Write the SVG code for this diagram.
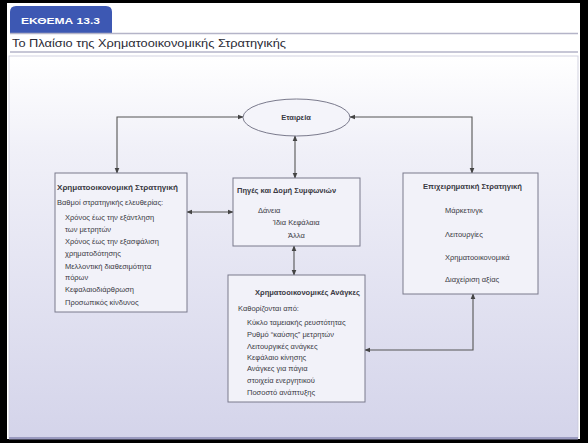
<svg xmlns="http://www.w3.org/2000/svg" width="588" height="443" viewBox="0 0 588 443">
<defs>
<linearGradient id="panel" x1="0" y1="0" x2="0" y2="1">
<stop offset="0" stop-color="#ffffff"/>
<stop offset="0.25" stop-color="#f0f0f8"/>
<stop offset="1" stop-color="#d4d4ea"/>
</linearGradient>
<marker id="ah" viewBox="0 0 8 8" refX="7" refY="4" markerWidth="6" markerHeight="6" orient="auto-start-reverse" markerUnits="userSpaceOnUse">
<path d="M0,0.8 L8,4 L0,7.2 Z" fill="#444"/>
</marker>
<style>
.box{fill:#f2f2f9;stroke:#7a7a8c;stroke-width:1}
.t{font-family:"Liberation Sans","Noto Sans",sans-serif;font-size:7.5px;fill:#3a3a44}
.b{font-weight:bold}
.c{fill:none;stroke:#555;stroke-width:1.1}
</style>
</defs>
<rect x="0" y="0" width="588" height="443" fill="#000"/>
<rect x="7" y="3" width="573" height="436" fill="#fff"/>
<rect x="9" y="56" width="569" height="382" fill="url(#panel)" stroke="#c8c8da" stroke-width="0.8"/>
<rect x="9" y="437" width="569" height="2.5" fill="#9a9ac0"/>
<path d="M10,33 V12 Q10,6 16,6 H106 Q112,6 112,12 V33 Z" fill="#3d58b3"/>
<line x1="10" y1="33.5" x2="578" y2="33.5" stroke="#b4b4c8" stroke-width="1.5"/>
<line x1="10" y1="52" x2="578" y2="52" stroke="#b4b4c8" stroke-width="1.5"/>
<text x="21" y="24" font-family="Liberation Sans, sans-serif" font-size="9.5" font-weight="bold" fill="#fff" textLength="79" lengthAdjust="spacingAndGlyphs">ΕΚΘΕΜΑ 13.3</text>
<text x="12" y="47" font-family="Liberation Sans, sans-serif" font-size="10" fill="#2a2a35" textLength="274" lengthAdjust="spacingAndGlyphs">Το Πλαίσιο της Χρηματοοικονομικής Στρατηγικής</text>

<g id="connectors">
<polyline class="c" points="117,173 117,117 243,117" marker-start="url(#ah)" marker-end="url(#ah)"/>
<polyline class="c" points="472,173 472,117 350,117" marker-start="url(#ah)" marker-end="url(#ah)"/>
<line class="c" x1="295" y1="136" x2="295" y2="178" marker-start="url(#ah)" marker-end="url(#ah)"/>
<line class="c" x1="187" y1="212" x2="233" y2="212" marker-start="url(#ah)" marker-end="url(#ah)"/>
<line class="c" x1="294" y1="246" x2="294" y2="275" marker-start="url(#ah)" marker-end="url(#ah)"/>
<polyline class="c" points="473,294 473,350 365,350" marker-start="url(#ah)" marker-end="url(#ah)"/>
</g>

<g id="company">
<ellipse cx="296.5" cy="117.5" rx="53.5" ry="18.5" fill="#f4f4fa" stroke="#7a7a8c" stroke-width="1"/>
<text class="t b" x="296" y="120" text-anchor="middle">Εταιρεία</text>
</g>

<g id="financial-strategy">
<rect class="box" x="55" y="173" width="132" height="139"/>
<text class="t b" x="57" y="190" textLength="121" lengthAdjust="spacingAndGlyphs">Χρηματοοικονομική Στρατηγική</text>
<text class="t" x="57" y="205">Βαθμοί στρατηγικής ελευθερίας:</text>
<text class="t" x="65" y="220">Χρόνος έως την εξάντληση</text>
<text class="t" x="65" y="232">των μετρητών</text>
<text class="t" x="65" y="244">Χρόνος έως την εξασφάλιση</text>
<text class="t" x="65" y="256">χρηματοδότησης</text>
<text class="t" x="65" y="269">Μελλοντική διαθεσιμότητα</text>
<text class="t" x="65" y="280">πόρων</text>
<text class="t" x="65" y="292">Κεφαλαιοδιάρθρωση</text>
<text class="t" x="65" y="305">Προσωπικός κίνδυνος</text>
</g>

<g id="sources">
<rect class="box" x="233" y="178" width="127" height="68"/>
<text class="t b" x="237" y="193">Πηγές και Δομή Συμφωνιών</text>
<text class="t" x="258" y="213">Δάνεια</text>
<text class="t" x="273" y="225">Ίδια Κεφάλαια</text>
<text class="t" x="288" y="238">Άλλα</text>
</g>

<g id="business-strategy">
<rect class="box" x="403" y="173" width="135" height="121"/>
<text class="t b" x="423" y="189" textLength="99" lengthAdjust="spacingAndGlyphs">Επιχειρηματική Στρατηγική</text>
<text class="t" x="445" y="213">Μάρκετινγκ</text>
<text class="t" x="445" y="237">Λειτουργίες</text>
<text class="t" x="445" y="260">Χρηματοοικονομικά</text>
<text class="t" x="445" y="282">Διαχείριση αξίας</text>
</g>

<g id="financial-needs">
<rect class="box" x="228" y="275" width="137" height="127"/>
<text class="t b" x="255" y="295" textLength="105" lengthAdjust="spacingAndGlyphs">Χρηματοοικονομικές Ανάγκες</text>
<text class="t" x="238" y="311">Καθορίζονται από:</text>
<text class="t" x="247" y="325">Κύκλο ταμειακής ρευστότητας</text>
<text class="t" x="247" y="337">Ρυθμό “καύσης” μετρητών</text>
<text class="t" x="247" y="349">Λειτουργικές ανάγκες</text>
<text class="t" x="247" y="360">Κεφάλαιο κίνησης</text>
<text class="t" x="247" y="371">Ανάγκες για πάγια</text>
<text class="t" x="247" y="383">στοιχεία ενεργητικού</text>
<text class="t" x="247" y="395">Ποσοστό ανάπτυξης</text>
</g>
</svg>
